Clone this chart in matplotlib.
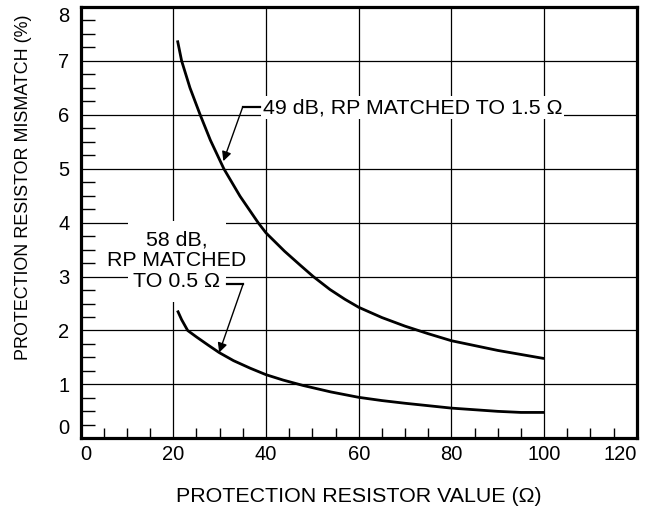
import numpy as np
import matplotlib.pyplot as plt
from matplotlib.patches import Rectangle

plt.rcParams['font.family'] = ['Liberation Sans', 'DejaVu Sans']

# curve readings (resistor value in ohm, mismatch in %)
x_49db = [20.9, 21.8, 23.6, 25.8, 28, 30.9, 34.4, 38.3, 40, 44, 47.4, 50.2, 53.8, 57, 60,
          65, 70, 75, 80, 90, 100]
y_49db = [7.38, 7.00, 6.50, 6.00, 5.53, 5.00, 4.49, 4.00, 3.81, 3.47, 3.21, 3.00, 2.76, 2.58, 2.43,
          2.24, 2.08, 1.94, 1.81, 1.63, 1.48]

x_58db = [20.9, 21.8, 23.1, 25, 27.5, 29.9, 33, 36.6, 40, 43.7, 48, 54, 60, 65, 70, 80, 90, 95, 100]
y_58db = [2.37, 2.20, 2.00, 1.88, 1.73, 1.59, 1.44, 1.30, 1.18, 1.08, 0.98, 0.86, 0.76, 0.70, 0.65,
          0.56, 0.50, 0.48, 0.48]

x_ticks = [0, 20, 40, 60, 80, 100, 120]
y_ticks = [0, 1, 2, 3, 4, 5, 6, 7, 8]

label_49db = "49 dB, RP MATCHED TO 1.5 \u03a9"
label_58db = "58 dB,\nRP MATCHED\nTO 0.5 \u03a9"

fs_tick = 14.5
fs_note = 15.4

fig = plt.figure(figsize=(6.52, 5.13), dpi=100)
ax = fig.add_axes([0.1236, 0.1456, 0.9767 - 0.1236, 0.9864 - 0.1456])

ax.plot(x_49db, y_49db, color='k', lw=2.0, zorder=3, solid_capstyle='butt', solid_joinstyle='round')
ax.plot(x_58db, y_58db, color='k', lw=2.0, zorder=3, solid_capstyle='butt', solid_joinstyle='round')

ax.set_xlim(0, 120)
ax.set_ylim(0, 8)
ax.set_xticks(x_ticks)
ax.set_yticks(y_ticks)
ax.set_xticks(np.arange(0, 121, 5), minor=True)
ax.set_yticks(np.arange(0, 8.01, 0.25), minor=True)
ax.set_xticklabels([str(v) for v in x_ticks], fontsize=fs_tick)
ax.set_yticklabels([str(v) for v in y_ticks], fontsize=fs_tick)

# end labels pushed inside the box like the original
xl = ax.get_xticklabels()
xl[0].set_ha('left')
xl[-1].set_ha('right')
yl = ax.get_yticklabels()
yl[0].set_va('bottom')
yl[-1].set_va('top')

ax.tick_params(which='both', direction='in', top=False, right=False, color='k')
ax.tick_params(axis='x', which='major', length=0, pad=5)
ax.tick_params(axis='x', which='minor', length=7, width=1)
ax.tick_params(axis='y', which='major', length=0, pad=8)
ax.tick_params(axis='y', which='minor', length=10, width=1)

ax.grid(True, which='major', color='k', lw=0.9)
ax.set_axisbelow(True)
for s in ax.spines.values():
    s.set_linewidth(2.3)
    s.set_zorder(5)

# upper label with its leader
ax.text(39.3, 6.13, label_49db, fontsize=fs_note, ha='left', va='center', zorder=4,
        bbox=dict(facecolor='white', edgecolor='none', boxstyle='square,pad=0.1'))
ax.plot([35.0, 38.6], [6.15, 6.15], color='k', lw=1.6, zorder=4)
ax.annotate('', xy=(30.8, 5.14), xytext=(35.0, 6.15), zorder=4,
            arrowprops=dict(arrowstyle='-|>', color='k', lw=1.0, mutation_scale=14,
                            shrinkA=0, shrinkB=0))

# lower label, white patch hides the grid behind it
ax.add_patch(Rectangle((10.2, 2.53), 21.2, 1.5, facecolor='white', edgecolor='none', zorder=1.5))
ax.text(20.7, 3.30, label_58db, fontsize=fs_note, ha='center', va='center',
        multialignment='center', linespacing=1.12, zorder=4)
ax.plot([31.5, 35.1], [2.87, 2.87], color='k', lw=1.6, zorder=4)
ax.annotate('', xy=(29.9, 1.59), xytext=(35.1, 2.87), zorder=4,
            arrowprops=dict(arrowstyle='-|>', color='k', lw=1.0, mutation_scale=14,
                            shrinkA=0, shrinkB=0))

fig.text(359 / 652, 1 - 497 / 513, "PROTECTION RESISTOR VALUE (\u03a9)", fontsize=fs_note,
         ha='center', va='center')
fig.text(24 / 652, 1 - 187 / 513, "PROTECTION RESISTOR MISMATCH (%)", fontsize=12.9,
         ha='center', va='center', rotation=90)

fig.savefig("out.png", dpi=100)
